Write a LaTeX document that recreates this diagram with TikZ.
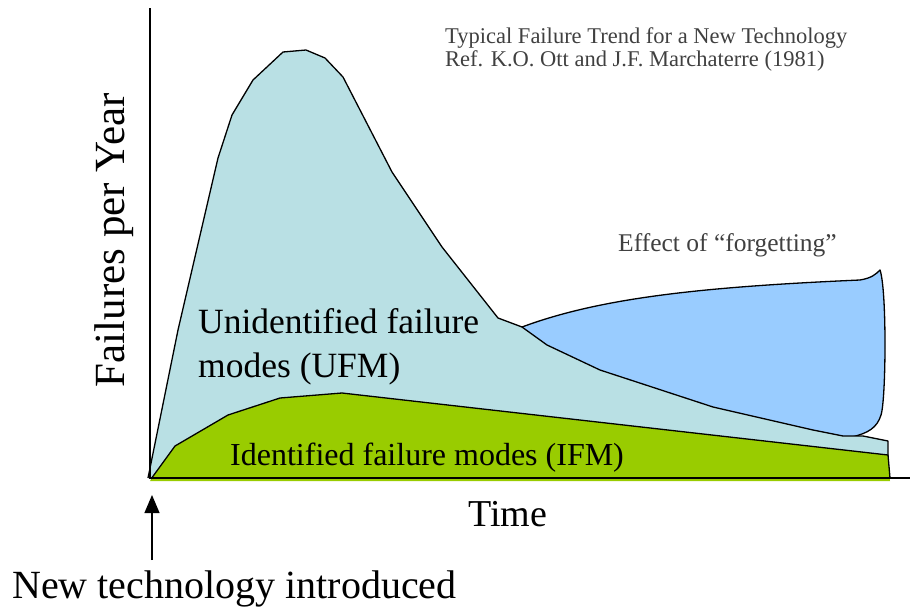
\documentclass[tikz,border=0pt]{standalone}
\usepackage{fontspec}
\setmainfont{Liberation Serif}
\usetikzlibrary{arrows.meta}
\definecolor{ufmcol}{RGB}{185,224,228}
\definecolor{forgetcol}{RGB}{153,204,255}
\definecolor{ifmcol}{RGB}{153,204,0}
\tikzset{
  outline/.style={draw=black,line width=1.3pt,line join=round},
  bigtext/.style={inner sep=0pt,anchor=base west,text=black},
  notetext/.style={inner sep=0pt,anchor=base west,text=black!75,font=\fontsize{22.5}{23}\selectfont},
}
\begin{document}
\begin{tikzpicture}[x=1pt,y=-1pt]
\useasboundingbox (0,0) rectangle (910,611);
% forgetting region
\fill[forgetcol] (522,327) .. controls (600,298) and (700,287) .. (860,280)
  .. controls (872,278) and (876,274) .. (880,270)
  .. controls (887,290) and (886,400) .. (881,415)
  .. controls (877,428) and (868,433) .. (852,437)
  -- (850,460) -- (540,460) -- (540,340) -- cycle;
\draw[outline] (522,327) .. controls (600,298) and (700,287) .. (860,280)
  .. controls (872,278) and (876,274) .. (880,270)
  .. controls (887,290) and (886,400) .. (881,415)
  .. controls (877,428) and (868,433) .. (852,437);
% UFM
\fill[ufmcol] (148,478) -- (178,330) -- (218,158) -- (232,115) -- (253,80) -- (283,52) -- (306,50)
  -- (325,58) -- (343,77) -- (392,172) -- (442,247) -- (498,318) -- (522,327) -- (547,345)
  -- (600,370) -- (713,407) -- (813,430) -- (843,436) -- (863,436) -- (888,441) -- (888,478) -- cycle;
\draw[outline] (148,478) -- (178,330) -- (218,158) -- (232,115) -- (253,80) -- (283,52) -- (306,50)
  -- (325,58) -- (343,77) -- (392,172) -- (442,247) -- (498,318) -- (522,327) -- (547,345)
  -- (600,370) -- (713,407) -- (813,430) -- (843,436) -- (863,436) -- (888,441) -- (888,458);
% IFM
\fill[ifmcol] (150,481) -- (175,446) -- (228,415) -- (280,398) -- (342,393) -- (888,455) -- (890,481) -- cycle;
\draw[outline] (151,479) -- (175,446) -- (228,415) -- (280,398) -- (342,393) -- (888,455) -- (890,478);
% axes
\coordinate (yaxtop) at (150,8);
\coordinate (origin) at (150,478);
\coordinate (xaxend) at (910,478);
\draw[line width=1.5pt] (yaxtop) -- (origin) -- (xaxend);
% labels
\node[notetext] (title1) at (445,43) {Typical Failure Trend for a New Technology};
\node[notetext] (title2) at (445,66) {Ref. K.O. Ott and J.F. Marchaterre (1981)};
\node[notetext,font=\fontsize{25.5}{27}\selectfont] (forget) at (618,251) {Effect of ``forgetting''};
\node[bigtext,font=\fontsize{35.5}{40}\selectfont] (ufm1) at (198,333) {Unidentified failure};
\node[bigtext,font=\fontsize{35.5}{40}\selectfont] (ufm2) at (198,377) {modes (UFM)};
\node[bigtext,font=\fontsize{32}{36}\selectfont] (ifm) at (230,465) {Identified failure modes (IFM)};
\node[bigtext,font=\fontsize{38}{40}\selectfont] (time) at (468,526) {Time};
\node[inner sep=0pt,anchor=base,rotate=90,font=\fontsize{43}{46}\selectfont] (ylab) at (124,240) {Failures per Year};
\node[bigtext,font=\fontsize{40}{44}\selectfont] (newtech) at (12,598) {New technology introduced};
\coordinate (tip) at (152,495);
\draw[line width=1.2pt,-{Triangle[length=18pt,width=15pt]}] (tip |- 0,560) -- (tip);
\end{tikzpicture}
\end{document}
